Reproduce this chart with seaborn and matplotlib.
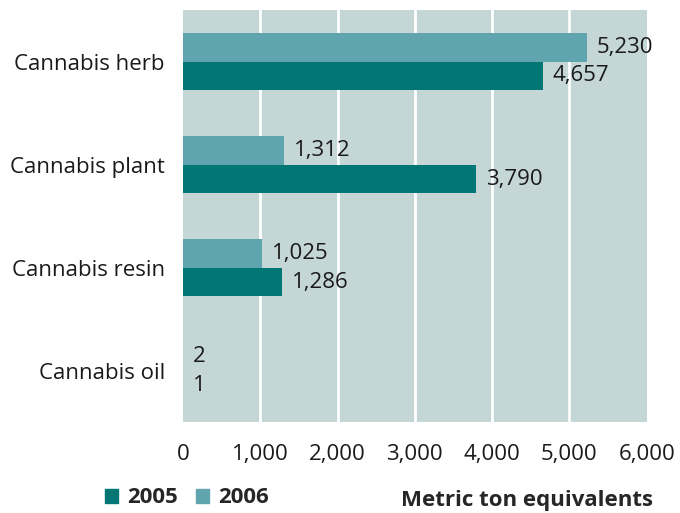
import matplotlib
matplotlib.use("Agg")
import matplotlib.pyplot as plt
import matplotlib.patches as mpatches
import seaborn as sns
import pandas as pd

categories = ["Cannabis herb", "Cannabis plant", "Cannabis resin", "Cannabis oil"]
years = ["2006", "2005"]
values_2006 = [5230, 1312, 1025, 2]
values_2005 = [4657, 3790, 1286, 1]
xticks = [0, 1000, 2000, 3000, 4000, 5000, 6000]

colors = {"2005": "#027575", "2006": "#5fa4ae"}

df = pd.DataFrame({
    "category": categories * 2,
    "year": ["2006"] * 4 + ["2005"] * 4,
    "value": values_2006 + values_2005,
})

sns.set_style("white")
plt.rcParams["font.family"] = ["Open Sans", "DejaVu Sans"]
fs = 16

fig = plt.figure(figsize=(6.8, 5.13), dpi=100)
ax = fig.add_axes([0.269, 0.177, 0.682, 0.8035])
ax.set_facecolor("#c5d6d6")

sns.barplot(data=df, x="value", y="category", hue="year", hue_order=years,
            order=categories, palette=colors, orient="h", width=0.56,
            saturation=1, ax=ax, legend=False, edgecolor="none", zorder=3)

for cont in ax.containers:
    ax.bar_label(cont, labels=[f"{v:,.0f}" for v in cont.datavalues],
                 padding=7, fontsize=fs, color="#1a1a1a")

ax.set_xlim(0, 6000)
ax.set_ylim(3.5, -0.5)
ax.set_xticks(xticks)
ax.set_xticklabels([f"{t:,}" for t in xticks], fontsize=fs)
ax.tick_params(axis="y", labelsize=fs, length=0, pad=13, colors="#1a1a1a")
ax.tick_params(axis="x", length=0, pad=16, colors="#1a1a1a")
for t in xticks[1:-1]:
    ax.axvline(t, color="white", lw=2, zorder=1)
for s in ax.spines.values():
    s.set_visible(False)
ax.set_xlabel("")
ax.set_ylabel("")

handles = [mpatches.Patch(color=colors["2005"], label="2005"),
           mpatches.Patch(color=colors["2006"], label="2006")]
fig.legend(handles=handles, loc="lower left", bbox_to_anchor=(0.125, -0.03),
           ncol=2, frameon=False, handlelength=0.6, handleheight=0.6,
           handletextpad=0.4, columnspacing=0.8,
           prop={"weight": "bold", "size": fs})
fig.text(0.96, 0.004, "Metric ton equivalents", ha="right", va="bottom",
         fontsize=fs, fontweight="bold")

fig.savefig("out.png", dpi=100)
